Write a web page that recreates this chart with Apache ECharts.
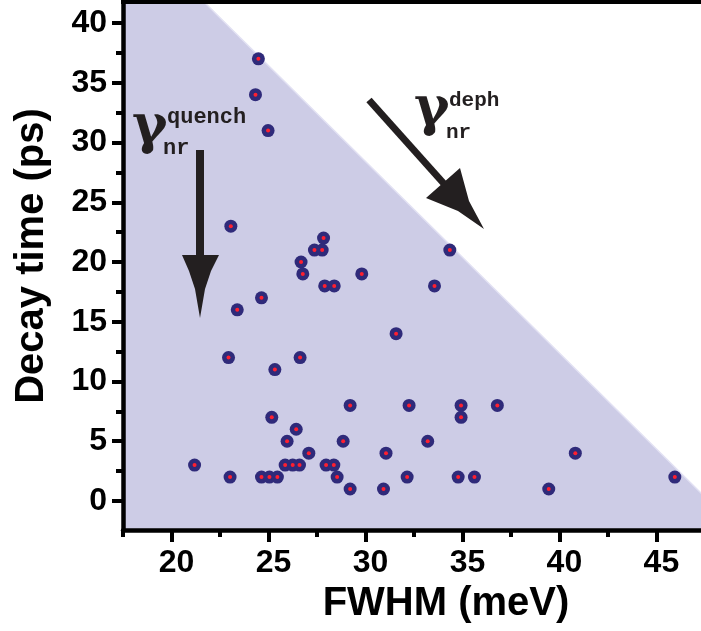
<!DOCTYPE html>
<html>
<head>
<meta charset="utf-8">
<script src="https://cdn.jsdelivr.net/npm/echarts@6/dist/echarts.min.js"></script>
<style>
html, body { margin: 0; padding: 0; background: #fff; }
#main { width: 701px; height: 631px; }
</style>
</head>
<body>
<div id="main"></div>
<script>
// FWHM (meV) and decay time (ps) of each measured dot
var fwhm = [24.48, 24.33, 24.98, 23.06, 27.84, 27.37, 27.77, 34.35, 26.68, 26.77,
    29.81, 27.9, 28.39, 33.56, 24.64, 23.39, 31.58, 22.94, 26.63, 25.33,
    29.21, 32.25, 34.93, 36.8, 25.17, 34.93, 26.43, 25.96, 28.85, 33.21,
    27.08, 31.06, 40.82, 21.19, 25.86, 26.25, 26.6, 27.97, 28.37, 23.02,
    24.64, 25.05, 25.46, 28.54, 32.15, 34.78, 35.62, 45.95, 29.21, 30.93, 39.45];
var decay = [37, 34, 31, 23, 22, 21, 21, 21, 20, 19,
    19, 18, 18, 18, 17, 16, 14, 12, 12, 11,
    8, 8, 8, 8, 7, 7, 6, 5, 5, 5,
    4, 4, 4, 3, 3, 3, 3, 3, 3, 2,
    2, 2, 2, 2, 2, 2, 2, 2, 1, 1, 1];

// shaded region boundary (FWHM, decay)
var edgeX = [17.5, 21.68, 49.23];
var edgeY = [41.76, 41.76, -2.43];

var xMajor = [20, 25, 30, 35, 40, 45];
var xMinor = [17.5, 22.5, 27.5, 32.5, 37.5, 42.5];
var yMajor = [0, 5, 10, 15, 20, 25, 30, 35, 40];
var yMinor = [2.5, 7.5, 12.5, 17.5, 22.5, 27.5, 32.5, 37.5];

var points = fwhm.map(function (x, i) { return [x, decay[i]]; });
var edge = edgeX.map(function (x, i) { return [x, edgeY[i]]; });

var dom = document.getElementById('main');
var myChart = echarts.init(dom);

var labelFont = {
    fontFamily: 'Liberation Sans',
    fontWeight: 'bold',
    fontSize: 32,
    color: '#000'
};
var tickStyle = { color: '#000', width: 4 };
var ink = '#231f20';

var option = {
    animation: false,
    backgroundColor: '#fff',
    grid: { left: 123, right: 0, top: 2, bottom: 101, containLabel: false },
    xAxis: [{
        type: 'value',
        position: 'bottom',
        z: 5,
        min: 17.5,
        max: 47.3,
        name: 'FWHM (meV)',
        nameLocation: 'middle',
        nameGap: 52,
        nameTextStyle: {
            fontFamily: 'Liberation Sans', fontWeight: 'bold', fontSize: 40, color: '#000',
            padding: [0, 0, 0, 68]
        },
        axisLine: { show: true, onZero: false, lineStyle: { color: '#000', width: 4.5 } },
        axisTick: { show: true, length: 12, lineStyle: tickStyle, customValues: xMajor },
        axisLabel: Object.assign({ margin: 17, customValues: xMajor, padding: [0, 0, 0, 10] }, labelFont),
        splitLine: { show: false }
    }, {
        type: 'value',
        position: 'bottom',
        z: 5,
        min: 17.5,
        max: 47.3,
        axisLine: { show: false, onZero: false },
        axisTick: { show: true, length: 7, lineStyle: tickStyle, customValues: xMinor },
        axisLabel: { show: false },
        splitLine: { show: false }
    }],
    yAxis: [{
        type: 'value',
        position: 'left',
        z: 5,
        min: -2.43,
        max: 41.76,
        name: 'Decay time (ps)',
        nameLocation: 'middle',
        nameGap: 71,
        nameTextStyle: {
            fontFamily: 'Liberation Sans', fontWeight: 'bold', fontSize: 40, color: '#000',
            padding: [0, 0, 0, 20]
        },
        axisLine: { show: true, onZero: false, lineStyle: { color: '#000', width: 4.5 } },
        axisTick: { show: true, length: 11, lineStyle: tickStyle, customValues: yMajor },
        axisLabel: Object.assign({ margin: 16, customValues: yMajor }, labelFont),
        splitLine: { show: false }
    }, {
        type: 'value',
        position: 'left',
        z: 5,
        min: -2.43,
        max: 41.76,
        axisLine: { show: false, onZero: false },
        axisTick: { show: true, length: 7, lineStyle: tickStyle, customValues: yMinor },
        axisLabel: { show: false },
        splitLine: { show: false }
    }],
    series: [{
        type: 'line',
        data: edge,
        symbol: 'none',
        lineStyle: { color: '#e2e1f3', width: 1.5 },
        areaStyle: { color: '#cdcce6', opacity: 1, origin: 'start' },
        z: 1
    }, {
        type: 'scatter',
        data: points,
        symbol: 'circle',
        symbolSize: 13,
        itemStyle: { color: '#2f2a7a', opacity: 1 },
        z: 3
    }, {
        type: 'scatter',
        data: points,
        symbol: 'circle',
        symbolSize: 4,
        itemStyle: { color: '#ff1f2f', opacity: 1 },
        z: 4
    }],
    graphic: [
        // top frame
        { type: 'rect', shape: { x: 121, y: 0, width: 580, height: 4 }, style: { fill: '#000' }, z: 10 },
        // quenching arrow
        { type: 'rect', shape: { x: 196, y: 150, width: 8, height: 108 }, style: { fill: ink }, z: 10 },
        { type: 'polygon', shape: { points: [[182, 255], [219, 255], [211, 271], [205, 289], [200, 318], [195, 289], [189, 271]] }, style: { fill: ink }, z: 10 },
        // dephasing arrow
        { type: 'line', shape: { x1: 369, y1: 100, x2: 446, y2: 186 }, style: { stroke: ink, lineWidth: 7 }, z: 10 },
        { type: 'polygon', shape: { points: [[426, 198], [460, 168], [469, 201], [484, 229], [458, 211]] }, style: { fill: ink }, z: 10 },
        // labels
        { type: 'text', x: 132, y: 129, style: { text: 'γ', font: 'bold 54px "DejaVu Serif"', fill: ink, verticalAlign: 'middle' }, z: 10 },
        { type: 'text', x: 167, y: 117, style: { text: 'quench', font: 'bold 22px "Liberation Mono"', fill: ink, verticalAlign: 'middle' }, z: 10 },
        { type: 'text', x: 163, y: 148, style: { text: 'nr', font: 'bold 22px "Liberation Mono"', fill: ink, verticalAlign: 'middle' }, z: 10 },
        { type: 'text', x: 414, y: 111, style: { text: 'γ', font: 'bold 54px "DejaVu Serif"', fill: ink, verticalAlign: 'middle' }, z: 10 },
        { type: 'text', x: 449, y: 101, style: { text: 'deph', font: 'bold 21px "Liberation Mono"', fill: ink, verticalAlign: 'middle' }, z: 10 },
        { type: 'text', x: 446, y: 133, style: { text: 'nr', font: 'bold 21px "Liberation Mono"', fill: ink, verticalAlign: 'middle' }, z: 10 }
    ]
};

if (option && typeof option === 'object') {
    myChart.setOption(option, true);
}
</script>
</body>
</html>
